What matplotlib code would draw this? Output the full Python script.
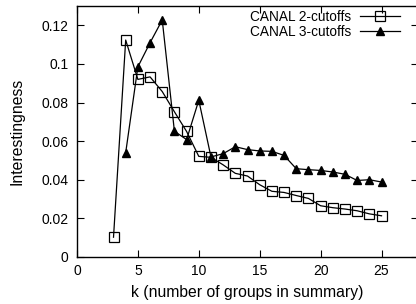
import matplotlib
matplotlib.use("Agg")
import matplotlib.pyplot as plt

plt.rcParams['font.family'] = ['Liberation Sans', 'DejaVu Sans']

k2 = [3, 4, 5, 6, 7, 8, 9, 10, 11, 12, 13, 14, 15, 16, 17, 18, 19, 20, 21, 22, 23, 24, 25]
cut2 = [0.0102, 0.1124, 0.0920, 0.0933, 0.0857, 0.0752, 0.0650, 0.0521, 0.0516, 0.0477,
        0.0433, 0.0419, 0.0374, 0.0340, 0.0334, 0.0318, 0.0303, 0.0265, 0.0255, 0.0248,
        0.0239, 0.0223, 0.0213]
k3 = [4, 5, 6, 7, 8, 9, 10, 11, 12, 13, 14, 15, 16, 17, 18, 19, 20, 21, 22, 23, 24, 25]
cut3 = [0.0540, 0.0985, 0.1110, 0.1228, 0.0651, 0.0608, 0.0812, 0.0518, 0.0535, 0.0571,
        0.0556, 0.0549, 0.0547, 0.0526, 0.0457, 0.0452, 0.0448, 0.0440, 0.0428, 0.0396,
        0.0400, 0.0388]

fig = plt.figure(figsize=(4.16, 3.04), dpi=100)
# right spine sits just past the image edge, like the original
ax = fig.add_axes([0.185, 0.155, 0.82, 0.825])

ax.plot(k2, cut2, color='black', linewidth=0.9, marker='s', markersize=7,
        markerfacecolor='none', markeredgecolor='black', markeredgewidth=0.9,
        label='CANAL 2-cutoffs')
ax.plot(k3, cut3, color='black', linewidth=0.9, marker='^', markersize=5.5,
        markerfacecolor='black', markeredgecolor='black',
        label='CANAL 3-cutoffs')

ax.set_xlim(0, 28)
ax.set_ylim(0, 0.13)
ax.set_xticks([0, 5, 10, 15, 20, 25])
ax.set_yticks([0, 0.02, 0.04, 0.06, 0.08, 0.1, 0.12])
ax.set_yticklabels(['0', '0.02', '0.04', '0.06', '0.08', '0.1', '0.12'])
ax.tick_params(direction='in', length=5, width=0.8, top=True, right=True, labelsize=10)
ax.tick_params(axis='x', pad=5)
ax.tick_params(axis='y', pad=6)
for s in ax.spines.values():
    s.set_linewidth(1.0)

ax.set_xlabel('k (number of groups in summary)', fontsize=11.3, labelpad=5)
ax.set_ylabel('Interestingness', fontsize=11.3, labelpad=12)

ax.legend(loc='upper right', frameon=False, markerfirst=False, fontsize=9.8,
          handlelength=3.0, borderaxespad=0.1, labelspacing=0.1, handletextpad=0.6,
          bbox_to_anchor=(0.968, 1.012))

fig.savefig('out.png', dpi=100)
